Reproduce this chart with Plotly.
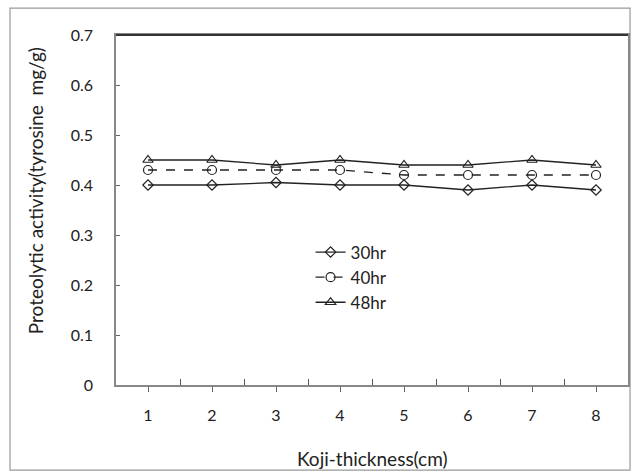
import plotly.graph_objects as go

thickness = [1, 2, 3, 4, 5, 6, 7, 8]
h30 = [0.40, 0.40, 0.405, 0.40, 0.40, 0.39, 0.40, 0.39]
h40 = [0.43, 0.43, 0.43, 0.43, 0.42, 0.42, 0.42, 0.42]
h48 = [0.45, 0.45, 0.44, 0.45, 0.44, 0.44, 0.45, 0.44]
series_names = ["30hr", "40hr", "48hr"]
y_ticks = [0, 0.1, 0.2, 0.3, 0.4, 0.5, 0.6, 0.7]
y_ticktext = ["0", "0.1", "0.2", "0.3", "0.4", "0.5", "0.6", "0.7"]
boundaries = [0.5, 1.5, 2.5, 3.5, 4.5, 5.5, 6.5, 7.5, 8.5]
x_title = "Koji-thickness(cm)"
y_title = "Proteolytic activity(tyrosine  mg/g)"

FONT = "Lato, 'Open Sans', sans-serif"

fig = go.Figure()
fig.add_trace(go.Scatter(x=thickness, y=h30, name=series_names[0], mode="lines+markers",
                         line=dict(color="#222", width=1.3),
                         marker=dict(symbol="diamond-open", size=8, color="#222", line=dict(width=1.2))))
fig.add_trace(go.Scatter(x=thickness, y=h40, name=series_names[1], mode="lines+markers",
                         line=dict(color="#222", width=1.3, dash="dash"),
                         marker=dict(symbol="circle-open", size=9, color="#222", line=dict(width=1.2))))
fig.add_trace(go.Scatter(x=thickness, y=h48, name=series_names[2], mode="lines+markers",
                         line=dict(color="#222", width=1.3),
                         marker=dict(symbol="triangle-up-open", size=9, color="#222", line=dict(width=1.2))))
# invisible trace to activate the boundary-tick axis
fig.add_trace(go.Scatter(x=[thickness[0]], y=[h30[0]], xaxis="x2", mode="markers",
                         marker=dict(opacity=0), showlegend=False, hoverinfo="skip"))

fig.update_layout(
    width=633, height=474,
    margin=dict(l=116, r=5, t=35, b=89, autoexpand=False),
    paper_bgcolor="white", plot_bgcolor="white",
    font=dict(family=FONT, size=16, color="#222"),
    showlegend=True,
    legend=dict(x=0.38, y=0.43, xanchor="left", yanchor="top",
                bgcolor="rgba(0,0,0,0)", font=dict(size=17, color="#222"),
                tracegroupgap=0),
    xaxis=dict(range=[0.5, 8.5], tickvals=thickness, ticktext=[str(t) for t in thickness],
               ticks="outside", ticklen=5, tickcolor="#666", ticklabelstandoff=10,
               showline=True, linecolor="#888", linewidth=1.5, mirror=True,
               showgrid=False, zeroline=False, automargin=False),
    xaxis2=dict(range=[0.5, 8.5], overlaying="x", side="bottom", anchor="y",
                tickvals=boundaries, ticks="inside", ticklen=6, tickcolor="#555", tickwidth=1.2,
                showticklabels=False, showline=False, showgrid=False, zeroline=False,
                automargin=False),
    yaxis=dict(range=[0, 0.7], tickvals=y_ticks, ticktext=y_ticktext,
               ticks="inside", ticklen=4, tickcolor="#666", ticklabelstandoff=18,
               showline=True, linecolor="#888", linewidth=1.5, mirror=True,
               showgrid=False, zeroline=False, automargin=False),
    annotations=[
        dict(text=x_title, xref="paper", yref="paper", x=0.5, y=-0.209,
             xanchor="center", yanchor="middle", showarrow=False, font=dict(size=19)),
        dict(text=y_title, xref="paper", yref="paper", x=-0.158, y=0.554,
             xanchor="center", yanchor="middle", showarrow=False, textangle=-90,
             font=dict(size=19)),
    ],
    shapes=[dict(type="rect", xref="paper", yref="paper",
                 x0=-0.207, x1=1.004, y0=-0.243, y1=1.077,
                 line=dict(color="#999", width=1.2), fillcolor="rgba(0,0,0,0)", layer="below"),
            dict(type="line", xref="paper", yref="paper", x0=0, x1=1, y0=1, y1=1,
                 line=dict(color="#333", width=2))],
)

fig.write_html("out.html", config={"displayModeBar": False},
               post_script="document.body.style.margin='0';document.body.style.overflow='hidden';")
